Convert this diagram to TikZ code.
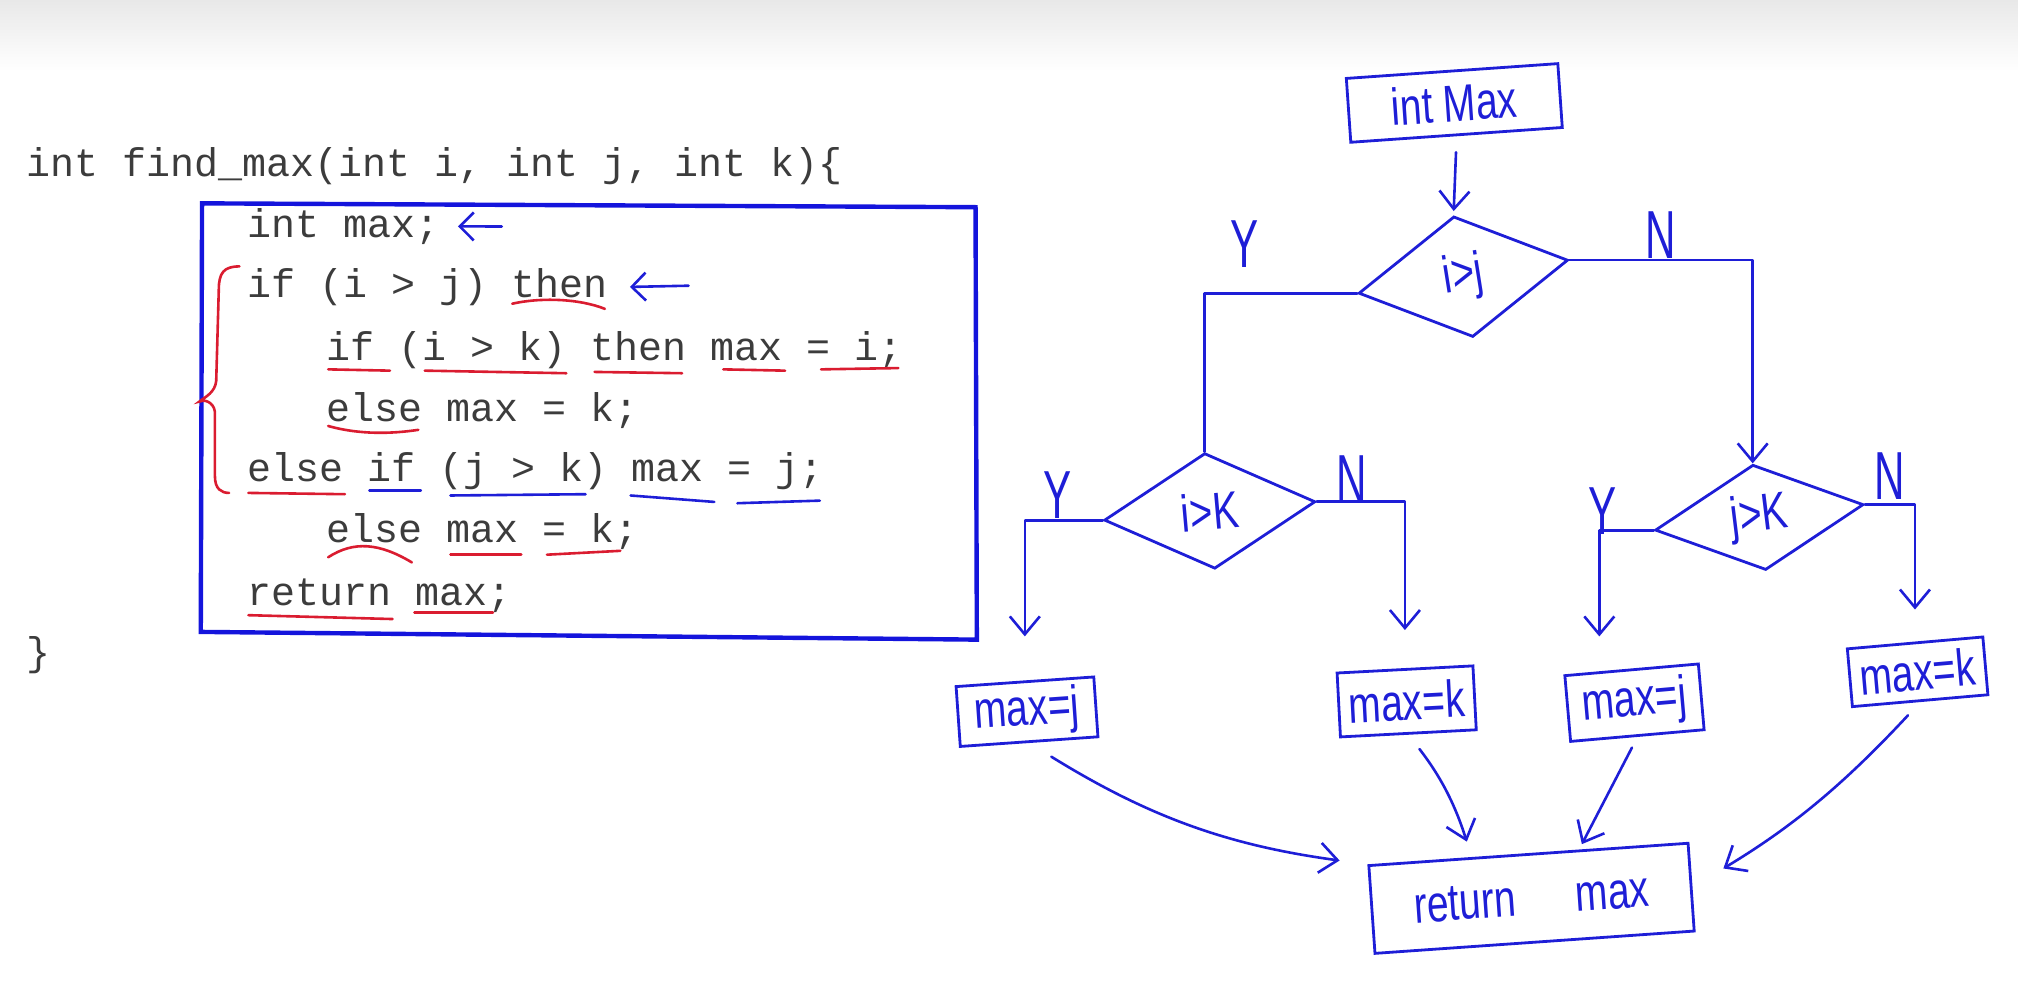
\documentclass[tikz,border=0pt]{standalone}
\usepackage{fontspec}
\setmonofont{Liberation Mono}
\newfontfamily\hand[FakeStretch=0.75]{Liberation Sans}
\newfontfamily\handn[FakeStretch=0.62]{Liberation Sans}
\usetikzlibrary{shapes.geometric,arrows.meta,calc}
\definecolor{ink}{RGB}{30,30,215}
\definecolor{redink}{RGB}{218,28,48}
\definecolor{codegray}{RGB}{60,60,60}
\definecolor{frameblue}{RGB}{20,20,220}

\begin{document}
\begin{tikzpicture}[x=0.6435pt, y=-0.6435pt,
  code/.style={anchor=mid west, inner sep=0pt, text=codegray, font=\ttfamily\fontsize{20}{24}\selectfont},
  pen/.style={ink, line width=1.3pt, line cap=round, line join=round},
  redpen/.style={redink, line width=1.3pt, line cap=round},
  tip/.style={-{Straight Barb[length=9pt,width=15pt]}},
  smalltip/.style={-{Straight Barb[length=7pt,width=14pt]}},
  hbox/.style={draw=ink, line width=1.4pt, inner sep=0pt, text=ink, font=\hand\fontsize{26}{28}\selectfont},
  cond/.style={hbox, diamond, font=\hand\fontsize{26}{28}\selectfont},
  yn/.style={text=ink, inner sep=0pt, font=\handn\fontsize{34}{36}\selectfont}]
  \useasboundingbox (0,0) rectangle (1568,765);
  \shade[top color=black!9, bottom color=white] (0,0) rectangle (1568,55);

  % the code
  \node[code] (head) at (20,134) {int find\_max(int i, int j, int k)\{};
  \node[code] (l1) at (192,181) {int max;};
  \node[code] (l2) at (192,228) {if (i > j) then};
  \node[code] (l3) at (253,277) {if (i > k) then max = i;};
  \node[code] (l4) at (253,324) {else max = k;};
  \node[code] (l5) at (192,371) {else if (j > k) max = j;};
  \node[code] (l6) at (253,418) {else max = k;};
  \node[code] (l7) at (192,467) {return max;};
  \node[code] (tail) at (20,514) {\}};
  \draw[frameblue, line width=2.2pt] (157,158) -- (758,161) -- (759,497) -- (156,491) -- cycle;

  \coordinate (a1) at (390,176);
  \coordinate (a2) at (535,222);
  \draw[pen, smalltip, shorten >=9pt] (a1) -- (l1.east);
  \draw[pen, smalltip, shorten >=11pt] (a2) -- (l2.east);

  % underlines
  \foreach \a/\b/\c/\d in {255/287/303/288, 330/288/440/290, 462/289/530/290, 562/287/610/288,
      638/287/698/286, 193/383/268/384, 350/431/405/431, 425/431/482/428, 193/478/305/481, 322/476/383/476}
    \draw[redpen] (\a,\b) -- (\c,\d);
  \draw[redpen] (398,236) .. controls (420,231) and (450,232) .. (470,240);
  \draw[redpen] (255,331) .. controls (280,338) and (305,337) .. (325,334);
  \draw[redpen] (255,433) .. controls (275,420) and (295,422) .. (320,437);
  \foreach \a/\b/\c/\d in {287/381/327/381, 350/385/455/384, 490/385/555/390, 573/391/637/389}
    \draw[pen] (\a,\b) -- (\c,\d);
  \draw[redpen] (186,207) .. controls (174,207) and (170,212) .. (170,225) -- (168,296)
    .. controls (167,305) and (160,308) .. (155,312) .. controls (158,310) and (166,312) .. (167,320)
    -- (167,370) .. controls (167,380) and (172,383) .. (178,383);

  % the flowchart
  \node[hbox, minimum width=106pt, minimum height=32pt, rotate=4] (intmax) at (1130,80) {int Max};
  \node[cond, minimum width=106pt, minimum height=61pt, rotate=9] (ij) at (1137,215) {i>j};
  \node[cond, minimum width=106pt, minimum height=58pt, rotate=5] (ik) at (940,397) {i>K};
  \node[cond, minimum width=105pt, minimum height=53pt, rotate=7] (jk) at (1367,402) {j>K};
  \node[hbox, minimum width=69pt, minimum height=30pt, rotate=4] (mj1) at (798,553) {max=j};
  \node[hbox, minimum width=68pt, minimum height=32pt, rotate=3] (mk1) at (1093,545) {max=k};
  \node[hbox, minimum width=67pt, minimum height=33pt, rotate=5] (mj2) at (1270,546) {max=j};
  \node[hbox, minimum width=68pt, minimum height=29pt, rotate=5] (mk2) at (1490,522) {max=k};
  \node[hbox, minimum width=160pt, minimum height=44pt, rotate=4] (ret) at (1190,698) {return\hspace{30pt}max};

  \node[yn] (y1) at (967,190) {Y};
  \node[yn] (n1) at (1290,183) {N};
  \node[yn] (y2) at (822,385) {Y};
  \node[yn] (n2) at (1050,372) {N};
  \node[yn] (y3) at (1245,397) {Y};
  \node[yn] (n3) at (1468,370) {N};

  \draw[pen, tip, shorten <=8pt, shorten >=2pt] (intmax.south) -- (ij.north);
  \draw[pen] (ij.west) -| (ik.north);
  \draw[pen, tip] (ij.east) -| (jk.north);
  \draw[pen, tip, shorten >=22pt] (ik.west) -| (mj1.north);
  \draw[pen, tip, shorten >=19pt] (ik.east) -| (mk1.north);
  \draw[pen, tip, shorten >=16pt] (jk.west) -| ($(mj2.north)+(-25,0)$);
  \draw[pen, tip, shorten >=16pt] (jk.east) -| (mk2.north);

  \draw[pen, tip, shorten <=13pt, shorten >=14pt] (mj1.south) to[bend right=12] (ret.north west);
  \draw[pen, tip, shorten <=9pt, shorten >=6pt] (mk1.south) to[bend left=10] ($(ret.north)+(-45,0)$);
  \draw[pen, tip, shorten <=6pt, shorten >=5pt] (mj2.south) -- ($(ret.north)+(38,0)$);
  \draw[pen, tip, shorten <=9pt, shorten >=18pt] (mk2.south) to[bend left=8] (ret.east);
\end{tikzpicture}
\end{document}
